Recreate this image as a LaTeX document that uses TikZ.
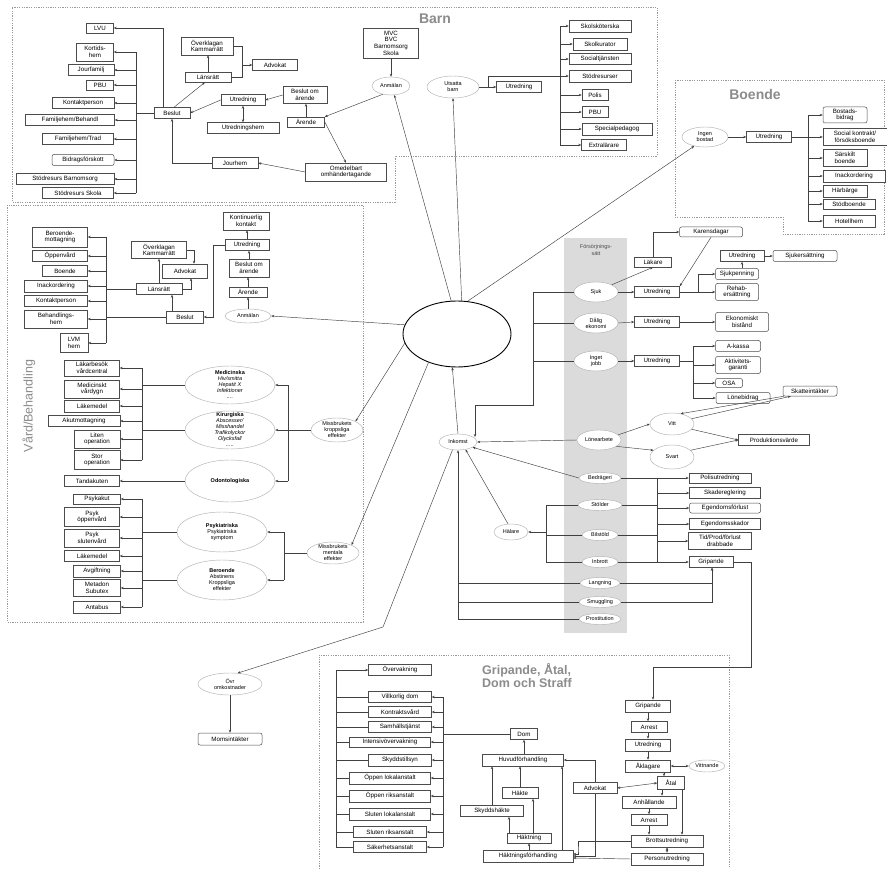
\documentclass[tikz,border=0pt]{standalone}
\usepackage{fontspec}
\setmainfont{Liberation Sans}
\usetikzlibrary{arrows.meta,shapes.geometric}
\newcommand{\myfs}{\fontsize{6.2}{6.7}\selectfont}
\newcommand{\myfe}{\fontsize{5.5}{6}\selectfont}
\newcommand{\bxnode}[7][]{\node[bx,#1,minimum width=#5,minimum height=#6] (#2) at (#3,#4) {#7};}
\newcommand{\elnode}[6]{\node[el,minimum width=#4*2,minimum height=#5*2] (#1) at (#2,#3) {};\node[eltxt] (#1-t) at (#2,#3) {#6};}
\begin{document}
\begin{tikzpicture}[x=1pt,y=-1pt,
  bx/.style={draw=black!70, line width=0.5pt, fill=white, inner sep=0.5pt, align=center, font=\myfs},
  rb/.style={rounded corners=2pt},
  el/.style={ellipse, draw=black!30, line width=0.45pt, fill=white, inner sep=0pt},
  eltxt/.style={align=center, font=\myfe, inner sep=0pt},
  ln/.style={draw=black!75, line width=0.45pt},
  ar/.style={ln, -{Stealth[length=3pt,width=2.4pt]}},
  ar2/.style={ln, {Stealth[length=3pt,width=2.4pt]}-{Stealth[length=3pt,width=2.4pt]}},
  frame/.style={draw=black!40, line width=0.5pt, dash pattern=on 1.2pt off 1.2pt},
  ttl/.style={text=black!45, font=\fontsize{14}{15}\selectfont\bfseries, inner sep=0pt}
]
\useasboundingbox (0,0) rectangle (887,869);
\fill[white] (0,0) rectangle (887,869);

% ---------- frames and band ----------
\draw[frame] (12,7) -- (657,7) -- (657,156) -- (395,156) -- (395,202) -- (12,202) -- cycle;
\draw[frame] (7,205) rectangle (363,622);
\draw[frame] (675,80) -- (884,80) -- (884,234) -- (783,234) -- (783,217) -- (675,217) -- cycle;
\draw[frame] (319,869) -- (319,655) -- (729,655) -- (729,869);
\fill[black!14] (564,238) rectangle (627,633);

\node[ttl] (tbarn) at (435,19) {Barn};
\node[ttl] (tboende) at (755,94) {Boende};
\node[text=black!45, font=\fontsize{12.5}{13}\selectfont, rotate=90, inner sep=0pt] (tvard) at (29,406) {Vård/Behandling};
\node[ttl, font=\fontsize{12.5}{13}\selectfont\bfseries, align=left, anchor=north west] (tgrip) at (482,663) {Gripande, Åtal,\\Dom och Straff};
\node[font=\fontsize{5.5}{6.2}\selectfont, text=black!70, align=center] (tfors) at (596,250) {Försörjnings-\\sätt};

% ---------- Barn ----------
\bxnode{lvu}{100}{28}{27}{10}{LVU}
\bxnode{kort}{95}{52}{37}{18}{Kortids-\\hem}
\bxnode{jourf}{91}{70}{46}{11}{Jourfamilj}
\bxnode{pbu1}{100}{85}{27}{10}{PBU}
\bxnode{kontp1}{83}{103}{62}{11}{Kontaktperson}
\bxnode{famb}{70}{120}{89}{11}{Familjehem/Behandl}
\bxnode{famt}{78}{139}{71}{11}{Familjehem/Trad}
\bxnode[rb]{bidr}{83}{160}{62}{11}{Bidragsförskott}
\bxnode{sbarn}{65}{179}{98}{11}{Stödresurs Barnomsorg}
\bxnode{sskola}{78}{193}{71}{11}{Stödresurs Skola}
\bxnode{beslut1}{172}{113}{36}{11}{Beslut}
\bxnode{overk1}{207}{46}{52}{18}{Överklagan\\Kammarrätt}
\bxnode{lans1}{208}{77}{46}{10}{Länsrätt}
\bxnode{advok1}{275}{65}{45}{11}{Advokat}
\bxnode{utr1}{243}{100}{44}{11}{Utredning}
\bxnode{utrhem}{243}{128}{72}{11}{Utredningshem}
\bxnode{beslom1}{305}{95}{44}{17}{Beslut om\\ärende}
\bxnode{arende1}{306}{122}{37}{10}{Ärende}
\bxnode{omed}{346}{172}{81}{18}{Omedelbart\\omhändertagande}
\bxnode{jourhem}{235}{163}{46}{11}{Jourhem}
\bxnode{mvc}{391}{43}{55}{30}{MVC\\BVC\\Barnomsorg\\Skola}
\elnode{anm1}{391}{86}{19}{9}{Anmälan}
\elnode{utsatta}{453}{87}{26}{11}{Utsatta\\barn}
\bxnode{utr2}{519}{87}{45}{11}{Utredning}
\bxnode{skols}{600}{26}{62}{12}{Skolsköterska}
\bxnode{skolk}{600}{44}{54}{12}{Skolkurator}
\bxnode{soct}{600}{59}{62}{11}{Socialtjänsten}
\bxnode{stodr}{600}{76}{62}{12}{Stödresurser}
\bxnode{polis}{595}{95}{26}{11}{Polis}
\bxnode{pbu2}{595}{112}{26}{11}{PBU}
\bxnode{specp}{617}{129}{70}{12}{Specialpedagog}
\bxnode{extra}{604}{145}{45}{11}{Extralärare}

% ---------- Boende ----------
\elnode{ingen}{705}{137}{23}{10}{Ingen\\bostad}
\bxnode{utr3}{769}{137}{45}{11}{Utredning}
\bxnode[rb]{bostb}{845}{115}{44}{16}{Bostads-\\bidrag}
\bxnode{sock}{855}{137}{64}{17}{Social kontrakt/\\försöksboende}
\bxnode{sarsk}{845}{158}{44}{17}{Särskilt\\boende}
\bxnode{inack1}{854}{176}{62}{12}{Inackordering}
\bxnode{harb}{845}{191}{44}{12}{Härbärge}
\bxnode{stodb}{849}{204}{52}{10}{Stödboende}
\bxnode{hotell}{849}{221}{52}{12}{Hotellhem}

% ---------- Vard ----------
\bxnode{kontin}{246}{221}{46}{18}{Kontinuerlig\\kontakt}
\bxnode{utr4}{247}{245}{44}{11}{Utredning}
\bxnode{beslom2}{249}{268}{40}{18}{Beslut om\\ärende}
\bxnode{arende2}{248}{292}{38}{10}{Ärende}
\elnode{anm2}{248}{316}{23}{7}{Anmälan}
\bxnode{beslut2}{185}{317}{37}{12}{Beslut}
\bxnode{lans2}{159}{289}{46}{11}{Länsrätt}
\bxnode{overk2}{159}{250}{55}{17}{Överklagan\\Kammarrätt}
\bxnode{advok2}{185}{271}{45}{14}{Advokat}
\bxnode{berm}{60}{237}{55}{20}{Beroende-\\mottagning}
\bxnode{oppen}{60}{256}{55}{11}{Öppenvård}
\bxnode{boende2}{65}{271}{45}{11}{Boende}
\bxnode{inack2}{56}{286}{63}{12}{Inackordering}
\bxnode{kontp2}{56}{301}{63}{11}{Kontaktperson}
\bxnode{behh}{56}{319}{63}{18}{Behandlings-\\hem}
\bxnode{lvm}{74}{343}{28}{19}{LVM\\hem}

\elnode{med}{230}{385}{45}{19}{\textbf{Medicinska}\\\textit{Hiv/smitta}\\\textit{Hepatit X}\\\textit{Infektioner}\\\textit{....}}
\elnode{kir}{230}{430}{45}{19}{\textbf{Kirurgiska}\\\textit{Abscesser/}\\\textit{Misshandel}\\\textit{Trafikolyckor}\\\textit{Olycksfall}\\\textit{.....}}
\elnode{odont}{230}{481}{45}{21}{\textbf{Odontologiska}}
\elnode{missk}{337}{430}{26}{12}{Missbrukets\\kroppsliga\\effekter}
\bxnode{lakb}{92}{368}{55}{16}{Läkarbesök\\vårdcentral}
\bxnode{medv}{92}{389}{55}{18}{Medicinskt\\vårdygn}
\bxnode{lakm1}{92}{406}{55}{12}{Läkemedel}
\bxnode{akut}{84}{421}{72}{11}{Akutmottagning}
\bxnode{liten}{97}{439}{46}{18}{Liten\\operation}
\bxnode{stor}{97}{460}{46}{19}{Stor\\operation}
\bxnode{tand}{92}{481}{55}{11}{Tandakuten}
\bxnode{psykakut}{97}{499}{47}{10}{Psykakut}
\bxnode{psyko}{92}{517}{55}{19}{Psyk\\öppenvård}
\bxnode{psyks}{92}{538}{55}{18}{Psyk\\slutenvård}
\bxnode{lakm2}{92}{556}{55}{11}{Läkemedel}
\bxnode{avg}{97}{571}{47}{12}{Avgiftning}
\bxnode{metad}{97}{588}{47}{17}{Metadon\\Subutex}
\bxnode{antab}{97}{607}{47}{12}{Antabus}
\elnode{psykia}{222}{532}{45}{20}{\textbf{Psykiatriska}\\Psykiatriska\\symptom}
\elnode{beroe}{222}{580}{45}{20}{\textbf{Beroende}\\Abstinens\\Kroppsliga\\effekter}
\elnode{missm}{333}{553}{26}{11}{Missbrukets\\mentala\\effekter}

% ---------- centre ----------
\node[ellipse, draw=black, line width=0.9pt, minimum width=108, minimum height=66, inner sep=0pt] (central) at (457,334) {};
\elnode{inkomst}{458}{442}{19}{8}{Inkomst}
\elnode{ovr}{230}{684}{32}{11}{Övr\\omkostnader}
\bxnode[rb]{moms}{230}{739}{64}{12}{Momsintäkter}

% ---------- Forsorjning ----------
\elnode{sjuk}{596}{292}{22}{10}{Sjuk}
\elnode{dalig}{596}{323}{22}{10}{Dålig\\ekonomi}
\elnode{inget}{596}{361}{22}{10}{Inget\\jobb}
\elnode{lone}{599}{440}{22}{10}{Lönearbete}
\bxnode{lakare}{653}{262}{37}{10}{Läkare}
\bxnode[rb]{karens}{711}{232}{63}{10}{Karensdagar}
\bxnode{utr5}{657}{292}{45}{11}{Utredning}
\bxnode[rb]{sjukp}{737}{274}{43}{11}{Sjukpenning}
\bxnode[rb]{rehab}{737}{292}{43}{17}{Rehab-\\ersättning}
\bxnode{utr6}{742}{256}{44}{11}{Utredning}
\bxnode[rb]{sjuke}{805}{256}{64}{11}{Sjukersättning}
\bxnode{utr7}{657}{322}{45}{11}{Utredning}
\bxnode[rb]{ekon}{742}{322}{53}{19}{Ekonomiskt\\bistånd}
\bxnode{utr8}{657}{361}{45}{11}{Utredning}
\bxnode[rb]{akassa}{738}{346}{45}{11}{A-kassa}
\bxnode[rb]{aktiv}{738}{365}{45}{17}{Aktivitets-\\garanti}
\bxnode[rb]{osa}{729}{383}{27}{9}{OSA}
\bxnode[rb]{loneb}{743}{398}{54}{11}{Lönebidrag}
\bxnode[rb]{skatt}{810}{391}{54}{10}{Skatteintäkter}
\elnode{vitt}{672}{424}{22}{11}{Vitt}
\elnode{svart}{672}{457}{22}{12}{Svart}
\bxnode{prod}{774}{440}{71}{11}{Produktionsvärde}
\elnode{bedr}{600}{478}{21}{5.5}{Bedrägeri}
\elnode{stold}{600}{505}{22}{5.5}{Stölder}
\elnode{bilst}{600}{535}{18}{5.5}{Bilstöld}
\elnode{inbr}{600}{562}{18}{5.5}{Inbrott}
\elnode{lang}{600}{583}{20}{5.5}{Langning}
\elnode{smug}{600}{602}{21}{5.5}{Smuggling}
\elnode{prost}{600}{619}{21}{5.5}{Prostitution}
\elnode{halare}{511}{532}{17}{8}{Hälare}
\bxnode{polut}{720}{478}{62}{10}{Polisutredning}
\bxnode{skade}{725}{493}{71}{11}{Skadereglering}
\bxnode[rb]{egenf}{725}{508}{71}{10}{Egendomsförlust}
\bxnode{egens}{725}{524}{71}{11}{Egendomsskador}
\bxnode{tidp}{720}{541}{63}{17}{Tid/Prod/förlust\\drabbade}
\bxnode{grip1}{711}{562}{44}{11}{Gripande}

% ---------- Gripande ----------
\bxnode{grip2}{648}{706}{45}{12}{Gripande}
\bxnode{arrest1}{649}{727}{36}{11}{Arrest}
\bxnode{utr9}{648}{745}{45}{12}{Utredning}
\bxnode{akl}{648}{766}{45}{12}{Åklagare}
\elnode{vittn}{707}{766}{18}{6}{Vittnande}
\bxnode{atal}{671}{783}{27}{13}{Åtal}
\bxnode{advok3}{595}{788}{44}{11}{Advokat}
\bxnode{anh}{649}{802}{54}{12}{Anhållande}
\bxnode{arrest2}{649}{820}{36}{11}{Arrest}
\bxnode{brott}{667}{841}{72}{12}{Brottsutredning}
\bxnode{person}{667}{859}{72}{12}{Personutredning}
\bxnode{dom}{524}{734}{27}{11}{Dom}
\bxnode{huvud}{523}{760}{81}{12}{Huvudförhandling}
\bxnode{hakte}{520}{793}{36}{11}{Häkte}
\bxnode{skyddh}{492}{811}{63}{11}{Skyddshäkte}
\bxnode{haktn}{529}{838}{44}{10}{Häktning}
\bxnode{haktf}{528}{856}{90}{12}{Häktningsförhandling}
\bxnode{overv}{400}{670}{63}{11}{Övervakning}
\bxnode{villk}{400}{697}{63}{11}{Villkorlig dom}
\bxnode{kontr}{400}{712}{63}{11}{Kontraktsvård}
\bxnode{samh}{400}{727}{63}{11}{Samhällstjänst}
\bxnode{intens}{390}{742}{81}{10}{Intensivövervakning}
\bxnode{skyddt}{400}{760}{63}{12}{Skyddstillsyn}
\bxnode{oppl}{390}{778}{81}{12}{Öppen lokalanstalt}
\bxnode{oppr}{390}{796}{81}{12}{Öppen riksanstalt}
\bxnode{slutl}{390}{814}{81}{12}{Sluten lokalanstalt}
\bxnode{slutr}{390}{832}{73}{11}{Sluten riksanstalt}
\bxnode{saker}{390}{847}{73}{11}{Säkerhetsanstalt}

% ================= connectors =================
% Barn
\coordinate (busA) at (136,0);
\draw[ln] (beslut1.west) -- (beslut1.west -| busA);
\draw[ln] (busA |- kort.east) -- (busA |- sskola.east);
\foreach \n in {kort,jourf,pbu1,kontp1,famb,famt,bidr,sbarn,sskola} \draw[ar] (busA |- \n.east) -- (\n.east);
\draw[ar] ([xshift=-9pt]beslut1.north) |- (lvu.east);
\draw[ar] ([xshift=2pt]beslut1.north) -- ([xshift=-3pt]lans1.south);
\draw[ar] (lans1.north) -- (lans1.north |- overk1.south);
\draw[ln] (overk1.east) -- ++(9,0) |- (lans1.east);
\coordinate (brA) at (242,65);
\draw[ar] (brA) -- (advok1.west);
\draw[ar] (utr1.west) -- (beslut1.east);
\draw[ar2] (utr1.south) -- (utrhem.north);
\draw[ar] (beslom1.west) -- (utr1.east);
\draw[ar] (arende1.north) -- (arende1.north |- beslom1.south);
\draw[ar] (arende1.east) -- (omed.north);
\draw[ar] (omed.west) -- (jourhem.east);
\draw[ar] (jourhem.west) -| (beslut1.south);
\draw[ar] (mvc.south) -- (mvc.south |- anm1.north);
\draw[ar] (anm1.225) -- (arende1.north east);
\draw[ar] (central.100) -- (anm1.290);
\draw[ar] (central.82) -- (utsatta.south);
\draw[ar] (central.72) -- (ingen.220);
\coordinate (busU) at (560,0);
\draw[ar] (utsatta.east) -- (utr2.west);
\draw[ln] ([xshift=9pt]utsatta.east) |- (busU |- stodr.west);
\draw[ln] (busU |- skols.west) -- (busU |- extra.west);
\foreach \n in {skols,skolk,soct,stodr,polis,pbu2,specp,extra} \draw[ar] (busU |- \n.west) -- (\n.west);

% Boende
\coordinate (busB) at (808,0);
\draw[ar] (ingen.east) -- (utr3.west);
\draw[ln] (utr3.east) -- (utr3.east -| busB);
\draw[ln] (busB |- bostb.west) -- (busB |- hotell.west);
\foreach \n in {bostb,sock,sarsk,inack1,harb,stodb,hotell} \draw[ar] (busB |- \n.west) -- (\n.west);

% Vard
\draw[ar] (anm2.north) -- (arende2.south);
\draw[ar] (arende2.north) -- (arende2.north |- beslom2.south);
\draw[ar] (beslom2.north) -- (beslom2.north |- utr4.south);
\draw[ar] (utr4.north) -- (utr4.north |- kontin.south);
\draw[ar] (utr4.west) -- ++(-12,0) |- (beslut2.east);
\draw[ar] ([xshift=-13pt]beslut2.north) -- ([xshift=-13pt]beslut2.north |- lans2.south);
\draw[ar] (lans2.north) -- (overk2.south);
\draw[ar] (overk2.east) -| ([xshift=9pt]advok2.north);
\draw[ar] (lans2.east) -| ([xshift=6pt]advok2.south);
\coordinate (busV) at (106,0);
\draw[ln] (lans2.west) -- (lans2.west -| busV);
\draw[ln] (beslut2.west) -- (beslut2.west -| busV);
\draw[ln] (busV |- berm.east) -- (busV |- lvm.east);
\foreach \n in {berm,oppen,boende2,inack2,kontp2,behh,lvm} \draw[ar] (busV |- \n.east) -- (\n.east);
\draw[ar] (central.170) -- (anm2.east);
\draw[ar] (central.190) -- (missk.north east);
\draw[ar] (central.225) -- (missm.north east);
\coordinate (busC) at (288,0);
\draw[ln] (missk.west) -- (missk.west -| busC);
\draw[ln] (busC |- med.east) -- (busC |- odont.east);
\foreach \n in {med,kir,odont} \draw[ar] (busC |- \n.east) -- (\n.east);
\coordinate (busD) at (142,0);
\draw[ln] (med.west) -- (med.west -| busD);
\draw[ln] (kir.west) -- (kir.west -| busD);
\draw[ln] (busD |- lakb.east) -- (busD |- stor.east);
\foreach \n in {lakb,medv,lakm1,akut,liten,stor} \draw[ar] (busD |- \n.east) -- (\n.east);
\draw[ar] (odont.west) -- (tand.east);
\draw[ln] (psykia.west) -- (psykia.west -| busD);
\draw[ln] (beroe.west) -- (beroe.west -| busD);
\draw[ln] (busD |- psykakut.east) -- (busD |- antab.east);
\foreach \n in {psykakut,psyko,psyks,lakm2,avg,metad,antab} \draw[ar] (busD |- \n.east) -- (\n.east);
\coordinate (busE) at (284,0);
\draw[ln] (missm.west) -- (missm.west -| busE);
\draw[ln] (busE |- psykia.east) -- (busE |- beroe.east);
\foreach \n in {psykia,beroe} \draw[ar] (busE |- \n.east) -- (\n.east);

% centre
\draw[ar] (inkomst.north) -- (central.262);
\coordinate (bendO) at (383,627);
\draw[ar] (inkomst.235) -- (bendO) -- (ovr.55);
\draw[ar] (ovr.south) -- (moms.north);

% Forsorjning
\coordinate (busF) at (533,0);
\foreach \n in {sjuk,dalig,inget} \draw[ln] (\n.west) -- (\n.west -| busF);
\coordinate (inkT) at (475,405);
\draw[ar] (busF |- sjuk.west) -- (busF |- inkT) -- (inkT) -- ([yshift=-32pt]inkT);
\draw[ar] (lone.west) -- (inkomst.east);
\draw[ar] (sjuk.north east) -- (lakare.south);
\draw[ar] (lakare.north) |- (karens.west);
\draw[ar] (karens.south) -- (utr5.north east);
\draw[ar] (sjuk.east) -- (utr5.west);
\coordinate (busG) at (698,0);
\draw[ln] (utr5.east) -- (utr5.east -| busG) -- (busG |- sjukp.west);
\draw[ar] (busG |- sjukp.west) -- (sjukp.west);
\draw[ar] (busG |- rehab.west) -- (rehab.west);
\draw[ar] (utr6.south |- sjukp.north) -- (utr6.south);
\draw[ar] (utr6.east) -- (sjuke.west);
\draw[ar] (dalig.east) -- (utr7.west);
\draw[ar] (utr7.east) -- (ekon.west);
\draw[ar] (inget.east) -- (utr8.west);
\coordinate (busH2) at (693,0);
\draw[ln] (utr8.east) -- (utr8.east -| busH2);
\draw[ln] (busH2 |- akassa.west) -- (busH2 |- loneb.west);
\foreach \n in {akassa,aktiv,osa,loneb} \draw[ar] (busH2 |- \n.west) -- (\n.west);
\draw[ar] ([xshift=1pt]skatt.south west) -- (vitt.50);
\draw[ar] (vitt.15) -- ([xshift=8pt]skatt.south west);
\draw[ar] (lone.15) -- (vitt.west);
\draw[ar] (lone.-20) -- (svart.160);
\draw[ar] (vitt.-15) -- (prod.west);
\draw[ar] (svart.20) -- (prod.west);
\draw[ar] (bedr.west) -- (inkomst.-20);
\draw[ar] (halare.110) -- (inkomst.-45);
\coordinate (busH) at (546,0);
\foreach \n in {stold,bilst,inbr} \draw[ln] (\n.west) -- (\n.west -| busH);
\draw[ln] (busH |- stold.west) -- (busH |- inbr.west);
\draw[ar] (busH |- halare.east) -- (halare.east);
\coordinate (busI) at (657,0);
\foreach \n in {bedr,stold,bilst,inbr} \draw[ln] (\n.east) -- (\n.east -| busI);
\draw[ln] (busI |- polut.west) -- (busI |- grip1.west);
\foreach \n in {polut,skade,egenf,egens,tidp,grip1} \draw[ar] (busI |- \n.west) -- (\n.west);
\draw[ar] (lang.east) -| ([xshift=1pt]grip1.south);
\draw[ar] (smug.east) -| ([xshift=1pt]grip1.south);
\draw[ln] (lang.west) -- (lang.west -| inkomst.south);
\draw[ln] (smug.west) -- (smug.west -| inkomst.south);
\draw[ar] (prost.west) -| (inkomst.south);
\draw[ar] (grip1.east) -| (751,667) -| ([xshift=5pt]grip2.north);

% Gripande
\draw[ar] (grip2.south) -- (grip2.south |- arrest1.north);
\draw[ar] (grip2.south |- arrest1.south) -- (grip2.south |- utr9.north);
\draw[ar] (utr9.south) -- (akl.north);
\draw[ar2] (akl.east) -- (vittn.west);
\draw[ar] ([xshift=16pt]akl.south) -- ([xshift=16pt]akl.south |- atal.north);
\draw[ar2] (atal.west) -- (advok3.east);
\draw[ar] ([xshift=-9pt]atal.south) -- ([xshift=-9pt]atal.south |- anh.north);
\draw[ar] (anh.south) -- (anh.south |- arrest2.north);
\draw[ar] (arrest2.south) -- (arrest2.south |- brott.north);
\draw[ar] ([xshift=11pt]atal.south) -- ([xshift=11pt]atal.south |- brott.north);
\draw[ar2] (brott.south) -- (person.north);
\draw[ar] (brott.west) -| (578,851) |- ([yshift=2pt]haktf.east);
\draw[ar] (person.west) -- ([yshift=-2pt]haktf.east);
\draw[ar] (advok3.south) |- (haktf.east);
\draw[ar] (advok3.north) |- (huvud.east);
\draw[ar] (dom.south |- huvud.north) -- (dom.south);
\draw[ar] (hakte.north) -- (hakte.north |- huvud.south);
\draw[ar] (skyddh.north) -- (skyddh.north |- huvud.south);
\draw[ar] ([xshift=34pt]haktf.north) -- ([xshift=34pt]haktf.north |- huvud.south);
\draw[ar] (haktn.south |- haktf.north) -- (haktn.south);
\draw[ar] ([xshift=-20pt]haktn.north) -- ([xshift=-20pt]haktn.north |- skyddh.south);
\draw[ar] ([xshift=4pt]haktn.north) -- ([xshift=4pt]haktn.north |- hakte.south);
\coordinate (busJ) at (443,0);
\draw[ln] (dom.west) -- (dom.west -| busJ);
\draw[ln] (busJ |- villk.east) -- (busJ |- saker.east);
\foreach \n in {villk,kontr,samh,intens,skyddt,oppl,oppr,slutl,slutr,saker} \draw[ar] (busJ |- \n.east) -- (\n.east);
\coordinate (busK) at (336,0);
\foreach \n in {villk,kontr,samh,intens,skyddt,oppl,oppr,slutl,slutr,saker} \draw[ln] (\n.west) -- (\n.west -| busK);
\draw[ln] (busK |- overv.west) -- (busK |- saker.west);
\draw[ar] (busK |- overv.west) -- (overv.west);
\end{tikzpicture}
\end{document}
